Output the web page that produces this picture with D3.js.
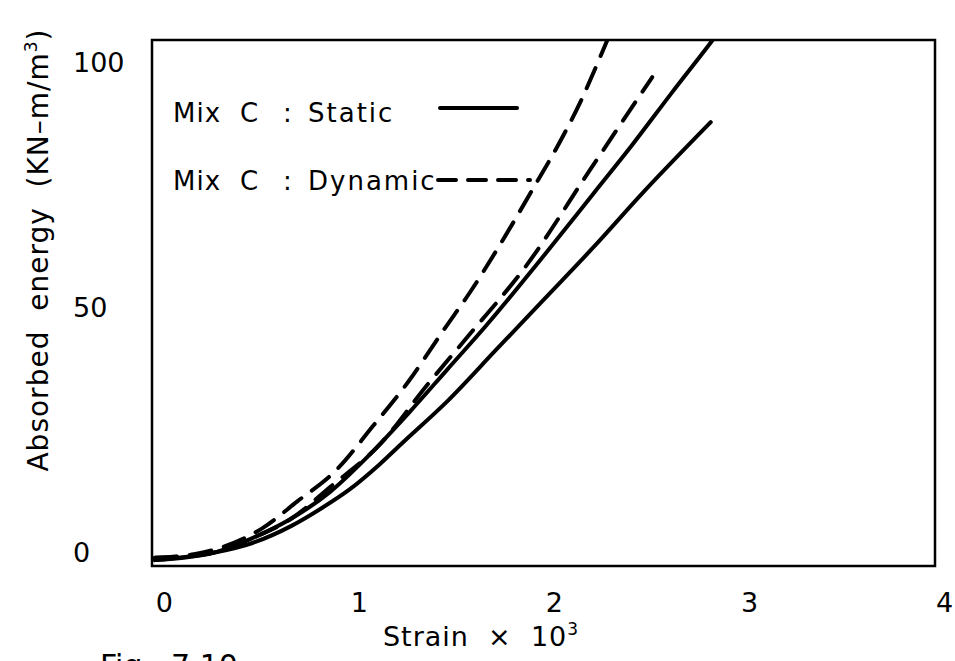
<!DOCTYPE html>
<meta charset="utf-8">
<style>
  body { margin: 0; background: #fff; }
  text { font-family: "DejaVu Sans", sans-serif; fill: #000; }
</style>
<body>
<svg width="955" height="661"></svg>

<script src="https://cdn.jsdelivr.net/npm/d3@7"></script>
<script>

// data: strain (x 10^3) vs absorbed energy (kN-m/m3)
var staticA = [[0,0],[0.3,1.5],[0.5,3.5],[0.7,7],[0.85,10.5],[1.0,14.5],[1.15,19.5],
               [1.27,24],[1.5,32.5],[1.75,43],[2.0,53.5],[2.25,64],[2.5,75],[2.85,89.5]];
var staticB = [[0,0],[0.3,1.5],[0.5,4.5],[0.7,8.5],[0.9,14],[1.1,21.5],[1.3,30],
               [1.5,39],[1.7,48],[2.0,62.5],[2.25,75],[2.45,85],[2.65,95.5],[2.86,106.3],[2.92,109.5]];
var dynamicA = [[0,0.5],[0.2,1.2],[0.35,2.7],[0.55,6.5],[0.73,12],[0.93,18.4],[1.12,27.5],
                [1.3,36.5],[1.48,47],[1.62,55],[1.77,64.5],[1.94,76],[2.07,85],
                [2.18,93.5],[2.27,101.6],[2.32,106.3],[2.36,110]];
var dynamicB = [[0,0.5],[0.3,1.5],[0.5,4.5],[0.7,8.5],[0.9,15],[1.15,23.5],[1.4,36],
                [1.6,45.5],[1.91,60.5],[2.23,79.7],[2.55,98.7]];

var xTicks = [0, 1, 2, 3, 4],
    yTicks = [0, 50, 100];

var legendRows = [
  {words: ["Mix", "C", ":", "Static"], dashed: false},
  {words: ["Mix", "C", ":", "Dynamic"], dashed: true}
];

var svg = d3.select("svg");

// frame edges in pixels
var frame = {left: 152, right: 935, top: 40, bottom: 566};

var x = d3.scaleLinear().domain([-0.015, 4]).range([frame.left, frame.right]),
    y = d3.scaleLinear().domain([-1.2, 106.3]).range([frame.bottom, frame.top]);

svg.append("defs").append("clipPath")
    .attr("id", "clip")
    .append("rect")
    .attr("x", frame.left).attr("y", frame.top)
    .attr("width", frame.right - frame.left).attr("height", frame.bottom - frame.top);

var line = d3.line()
    .curve(d3.curveMonotoneX)
    .x(function(d) { return x(d[0]); })
    .y(function(d) { return y(d[1]); });

var curves = svg.append("g").attr("clip-path", "url(#clip)");

[staticA, staticB].forEach(function(s) {
  curves.append("path").datum(s)
      .attr("d", line)
      .attr("fill", "none").attr("stroke", "#000")
      .attr("stroke-width", 4).attr("stroke-linecap", "round");
});

[dynamicA, dynamicB].forEach(function(s) {
  curves.append("path").datum(s)
      .attr("d", line)
      .attr("fill", "none").attr("stroke", "#000")
      .attr("stroke-width", 4).attr("stroke-linecap", "round")
      .attr("stroke-dasharray", "22,13");
});

// frame
svg.append("rect")
    .attr("x", frame.left).attr("y", frame.top)
    .attr("width", frame.right - frame.left).attr("height", frame.bottom - frame.top)
    .attr("fill", "none").attr("stroke", "#000").attr("stroke-width", 2.5);

// X axis labels
var xAxis = d3.axisBottom(x).tickValues(xTicks).tickSize(0).tickPadding(0)
    .tickFormat(d3.format("d"));
var gx = svg.append("g")
    .attr("transform", "translate(0," + frame.bottom + ")")
    .call(xAxis);
gx.select(".domain").remove();
gx.selectAll("text")
    .attr("dx", 9).attr("y", 46).attr("dy", 0)
    .style("font-size", "27px").style("font-family", "DejaVu Sans");

// Y axis labels (left aligned in the original)
var yAxis = d3.axisLeft(y).tickValues(yTicks).tickSize(0).tickPadding(0)
    .tickFormat(d3.format("d"));
var gy = svg.append("g")
    .call(yAxis);
gy.select(".domain").remove();
gy.selectAll("text")
    .attr("x", 73).attr("dy", 1)
    .attr("text-anchor", "start")
    .style("font-size", "27px").style("font-family", "DejaVu Sans");

// axis titles
var xt = svg.append("text")
    .attr("x", 481).attr("y", 646)
    .attr("text-anchor", "middle")
    .style("font-size", "27px").style("letter-spacing", "1px").style("white-space", "pre");
xt.append("tspan").text("Strain  \u00d7  10");
xt.append("tspan").attr("dy", -11).style("font-size", "17px").text("3");

var yt = svg.append("text")
    .attr("transform", "translate(48,250) rotate(-90)")
    .attr("text-anchor", "middle")
    .style("font-size", "28px").style("letter-spacing", "1px").style("white-space", "pre");
yt.append("tspan").text("Absorbed  energy  (KN\u2013m/m");
yt.append("tspan").attr("dy", -11).style("font-size", "17px").text("3");
yt.append("tspan").attr("dy", 11).text(")");

// legend: words spread out like the original lettering
var wordX = [173, 240, 283, 308],
    rowY = [122, 190];
var rows = svg.append("g").selectAll("g")
    .data(legendRows)
    .enter().append("g");

rows.append("text")
    .attr("y", function(d, i) { return rowY[i]; })
    .style("font-size", "26px")
    .selectAll("tspan")
    .data(function(d) { return d.words; })
    .enter().append("tspan")
    .attr("x", function(d, j) { return wordX[j]; })
    .style("letter-spacing", function(d) { return d.length > 3 ? "2px" : "1px"; })
    .text(function(d) { return d; });

rows.append("line")
    .attr("x1", function(d) { return d.dashed ? 438 : 440; })
    .attr("x2", function(d) { return d.dashed ? 530 : 517; })
    .attr("y1", function(d, i) { return rowY[i] - (d.dashed ? 10 : 14); })
    .attr("y2", function(d, i) { return rowY[i] - (d.dashed ? 10 : 14); })
    .attr("stroke", "#000").attr("stroke-width", 4).attr("stroke-linecap", "round")
    .attr("stroke-dasharray", function(d) { return d.dashed ? "18,12" : null; });

// figure caption, cut by the bottom edge
svg.append("text")
    .attr("x", 100).attr("y", 676)
    .style("font-size", "30px").style("white-space", "pre")
    .text("Fig.  7.10");

</script>
</body>
